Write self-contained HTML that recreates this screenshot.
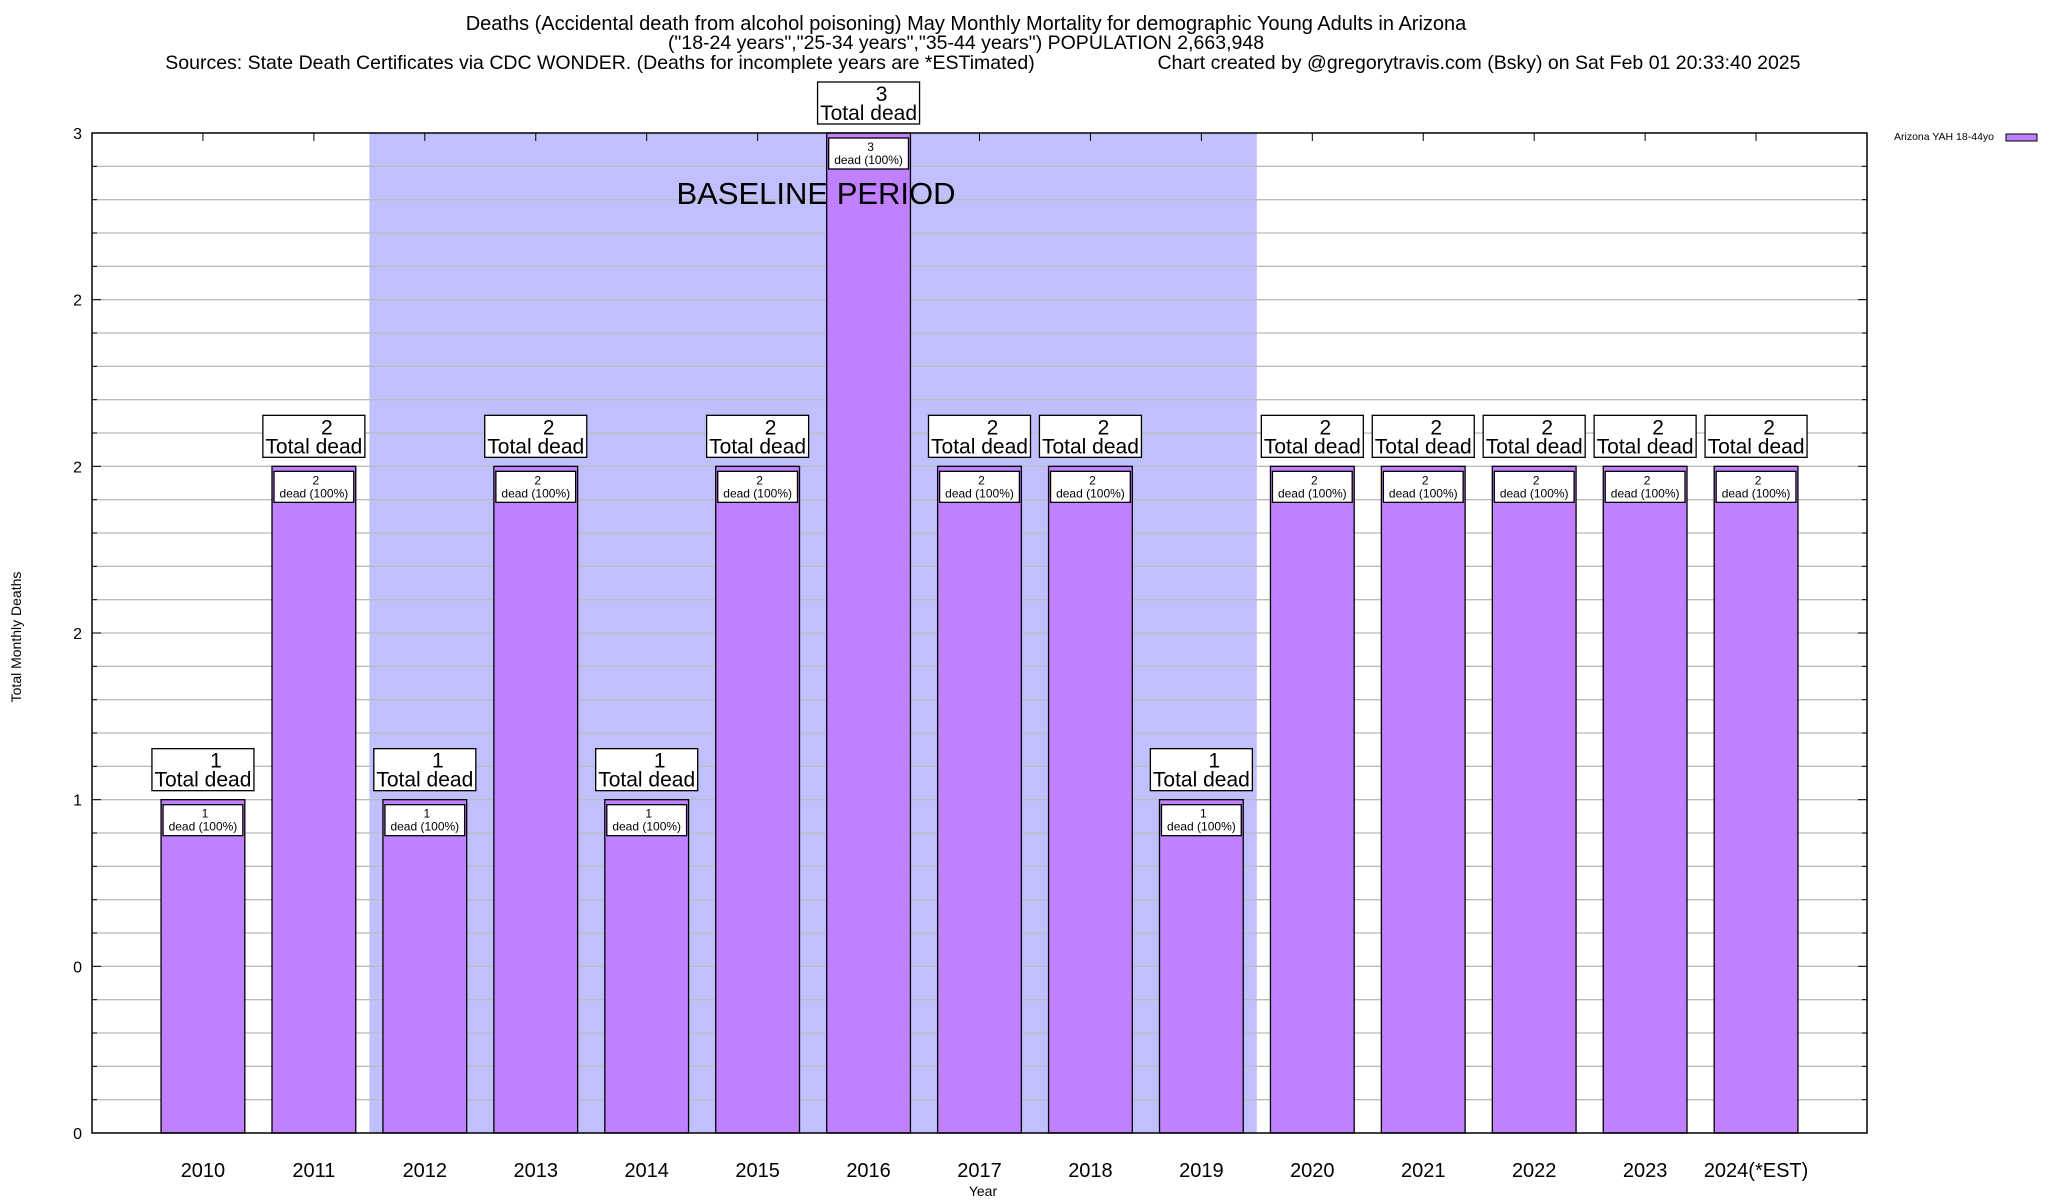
<!DOCTYPE html>
<html><head><meta charset="utf-8"><style>
html,body{margin:0;padding:0;background:#fff}
svg{display:block;font-family:"Liberation Sans",sans-serif}
</style></head><body>
<svg id="chart" width="2048" height="1200" viewBox="0 0 2048 1200" xmlns="http://www.w3.org/2000/svg">
<g font-size="19.5" text-anchor="middle">
<text x="966" y="30" font-size="20">Deaths (Accidental death from alcohol poisoning) May Monthly Mortality for demographic Young Adults in Arizona</text>
<text x="966" y="49">("18-24 years","25-34 years","35-44 years") POPULATION 2,663,948</text>
<text x="600" y="69">Sources: State Death Certificates via CDC WONDER. (Deaths for incomplete years are *ESTimated)</text>
<text x="1479" y="69">Chart created by @gregorytravis.com (Bsky) on Sat Feb 01 20:33:40 2025</text>
</g>
<g id="plot"></g>
</svg>
<script>
const categories=["2010","2011","2012","2013","2014","2015","2016","2017","2018","2019","2020","2021","2022","2023","2024(*EST)"];
const deaths=[1,2,1,2,1,2,3,2,2,1,2,2,2,2,2];
const yTickValues=[0,0.5,1,1.5,2,2.5,3];
const yTickLabels=["0","0","1","2","2","2","3"];
const baselineStart=2, baselineEnd=9;
const L=92,R=1867,T=133,B=1133;
const NS="http://www.w3.org/2000/svg";
const g=document.getElementById('plot');
function xs(i){return L+(i+1)*(R-L)/16;}
function ys(v){return B-v*(B-T)/3;}
const slot=(R-L)/16, bw=slot*0.755;
function mk(t,a,p){const e=document.createElementNS(NS,t);for(const k in a)e.setAttribute(k,a[k]);(p||g).appendChild(e);return e;}
let sh=mk('rect',{x:xs(baselineStart)-slot/2,y:T,width:xs(baselineEnd)-xs(baselineStart)+slot,height:B-T,fill:'#c0c0ff'});


for(let k=1;k<30;k++){const v=k*0.1;const y=ys(v);
 let l=mk('line',{x1:L,x2:R,y1:y,y2:y,stroke:'#bbb','stroke-width':1.3});
 
 
 mk('line',{x1:L,x2:L+(k%5==0?9:5),y1:y,y2:y,stroke:'#000'});
 mk('line',{x1:R,x2:R-(k%5==0?9:5),y1:y,y2:y,stroke:'#000'});
}
yTickValues.forEach((v,i)=>{let t=mk('text',{x:82,y:ys(v)+6,'font-size':16,'text-anchor':'end'});t.textContent=yTickLabels[i];
 
 });
categories.forEach((c,i)=>{
 const cx=xs(i),v=deaths[i],top=ys(v);
 mk('line',{x1:cx,x2:cx,y1:T,y2:T+8,stroke:'#000'});
 let b=mk('rect',{x:cx-bw/2,y:top,width:bw,height:B-top,fill:'#c080ff',stroke:'#000','stroke-width':1.3});
 
 
 let ib=mk('rect',{x:cx-bw/2+2,y:top+5,width:bw-4,height:31,fill:'#fff',stroke:'#000','stroke-width':1.3});
 
 
 let t1=mk('text',{x:cx+2,y:top+18,'font-size':12,'text-anchor':'middle'});t1.textContent=v;
 let t2=mk('text',{x:cx,y:top+31,'font-size':12,'text-anchor':'middle'});t2.textContent='dead (100%)';
 let ob=mk('rect',{x:cx-51,y:top-51,width:102,height:42,fill:'#fff',stroke:'#000','stroke-width':1.3});
 
 
 let t3=mk('text',{x:cx+13,y:top-32,'font-size':21,'text-anchor':'middle'});t3.textContent=v;
 let t4=mk('text',{x:cx,y:top-13,'font-size':21,'text-anchor':'middle'});t4.textContent='Total dead';
 let xl=mk('text',{x:cx,y:1177,'font-size':20,'text-anchor':'middle'});xl.textContent=c;
 
 
});
let bt=mk('text',{x:816,y:204,'font-size':31,'text-anchor':'middle'});bt.textContent='BASELINE PERIOD';


let fr=mk('rect',{x:L,y:T,width:R-L,height:B-T,fill:'none',stroke:'#000','stroke-width':1.5});


let xt=mk('text',{x:983,y:1196,'font-size':14,'text-anchor':'middle'});xt.textContent='Year';


let yt=mk('text',{x:0,y:0,'font-size':14,'text-anchor':'middle',transform:'translate(21,637) rotate(-90)'});yt.textContent='Total Monthly Deaths';


let lt=mk('text',{x:1894,y:140,'font-size':10.5});lt.textContent='Arizona YAH 18-44yo';


let ls=mk('rect',{x:2006,y:134,width:31,height:7,fill:'#c080ff',stroke:'#000'});


</script>
</body></html>
